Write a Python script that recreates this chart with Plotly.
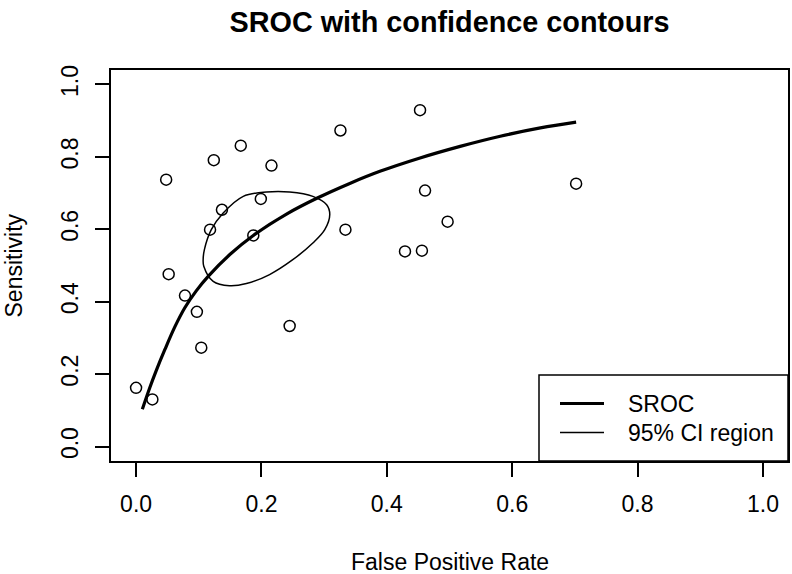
import plotly.graph_objects as go

# Study points (false positive rate, sensitivity)
fpr = [0.000, 0.026, 0.048, 0.052, 0.078, 0.097, 0.104, 0.118, 0.124, 0.137, 0.167, 0.187,
       0.199, 0.216, 0.245, 0.326, 0.334, 0.429, 0.453, 0.456, 0.461, 0.497, 0.702]
sens = [0.162, 0.130, 0.737, 0.476, 0.417, 0.372, 0.273, 0.599, 0.791, 0.654, 0.831, 0.583,
        0.684, 0.776, 0.333, 0.873, 0.599, 0.539, 0.929, 0.541, 0.707, 0.621, 0.726]

# SROC curve
sroc_fpr = [0.010, 0.022, 0.032, 0.046, 0.062, 0.078, 0.096, 0.115, 0.150, 0.187,
            0.240, 0.290, 0.340, 0.389, 0.453, 0.517, 0.581, 0.645, 0.702]
sroc_sens = [0.103, 0.163, 0.209, 0.268, 0.331, 0.384, 0.430, 0.470, 0.531, 0.583,
             0.642, 0.687, 0.726, 0.760, 0.797, 0.829, 0.857, 0.880, 0.896]

# 95% confidence region (ellipse outline)
ci_fpr = [0.107, 0.109, 0.120, 0.139, 0.171, 0.208, 0.245, 0.282, 0.304, 0.309, 0.301,
          0.282, 0.250, 0.213, 0.176, 0.149, 0.123, 0.108, 0.107]
ci_sens = [0.516, 0.544, 0.599, 0.645, 0.691, 0.703, 0.703, 0.691, 0.668, 0.641, 0.599,
           0.562, 0.516, 0.475, 0.450, 0.444, 0.456, 0.498, 0.516]

tick_vals = [0.0, 0.2, 0.4, 0.6, 0.8, 1.0]
tick_text = ["0.0", "0.2", "0.4", "0.6", "0.8", "1.0"]

FONT = "Liberation Sans, Arial, Helvetica, sans-serif"
FS = 23

fig = go.Figure()
fig.add_trace(go.Scatter(x=fpr, y=sens, mode="markers", name="Studies",
                         marker=dict(symbol="circle-open", size=11, color="black",
                                     line=dict(width=1.5, color="black")),
                         showlegend=False))
fig.add_trace(go.Scatter(x=sroc_fpr, y=sroc_sens, mode="lines", name="SROC",
                         line=dict(color="black", width=3.2, shape="spline", smoothing=1.0),
                         showlegend=False))
fig.add_trace(go.Scatter(x=ci_fpr, y=ci_sens, mode="lines", name="95% CI region",
                         line=dict(color="black", width=1.5, shape="spline", smoothing=1.0),
                         showlegend=False))

L, R, T, B = 111, 4, 70, 113
W, H = 792, 574
pw, ph = W - L - R, H - T - B

def px(xp):
    return (xp - L) / pw

def py(yp):
    return (H - B - yp) / ph

# manual R-style legend box
fig.add_shape(type="rect", xref="paper", yref="paper",
              x0=px(539), x1=1, y0=0, y1=py(375),
              line=dict(color="black", width=1.5), fillcolor="white", layer="above")
fig.add_shape(type="line", xref="paper", yref="paper",
              x0=px(560), x1=px(604), y0=py(403.5), y1=py(403.5),
              line=dict(color="black", width=3.2))
fig.add_shape(type="line", xref="paper", yref="paper",
              x0=px(560), x1=px(604), y0=py(432.5), y1=py(432.5),
              line=dict(color="black", width=1.3))
for label, yy in [("SROC", 403.5), ("95% CI region", 432.5)]:
    fig.add_annotation(xref="paper", yref="paper", x=px(626), y=py(yy), text=label,
                       showarrow=False, xanchor="left", yanchor="middle",
                       font=dict(family=FONT, size=FS, color="black"))

# axis titles
fig.add_annotation(xref="paper", yref="paper", x=0.5, y=py(562), text="False Positive Rate",
                   showarrow=False, xanchor="center", yanchor="middle",
                   font=dict(family=FONT, size=FS, color="black"))
fig.add_annotation(xref="paper", yref="paper", x=px(13), y=0.5, text="Sensitivity",
                   showarrow=False, xanchor="center", yanchor="middle", textangle=-90,
                   font=dict(family=FONT, size=FS, color="black"))

fig.update_layout(
    width=W, height=H,
    margin=dict(l=L, r=R, t=T, b=B),
    paper_bgcolor="white", plot_bgcolor="white",
    title=dict(text="<b>SROC with confidence contours</b>", x=(L + pw / 2) / W,
               xanchor="center", y=1 - 22 / H, yanchor="middle", yref="container",
               font=dict(family=FONT, size=28.8, color="black")),
    showlegend=False,
)
axis_common = dict(range=[-0.04, 1.04], showgrid=False, zeroline=False,
                   showline=True, mirror=True, linecolor="black", linewidth=1.5,
                   ticks="outside", ticklen=14, tickwidth=1.5, tickcolor="black",
                   tickvals=tick_vals, ticktext=tick_text, automargin=False,
                   tickfont=dict(family=FONT, size=FS, color="black"))
fig.update_xaxes(**axis_common, ticklabelstandoff=8)
fig.update_yaxes(**axis_common, tickangle=-90, ticklabelstandoff=8)

fig.write_html("out.html", config={"displayModeBar": False},
               post_script="document.body.style.margin='0px';document.body.style.overflow='hidden';")
